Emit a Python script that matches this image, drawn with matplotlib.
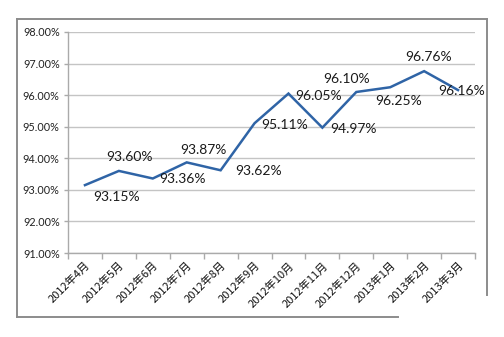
import matplotlib
matplotlib.use("Agg")
import matplotlib.pyplot as plt
from matplotlib.lines import Line2D

months = ["2012年4月", "2012年5月", "2012年6月", "2012年7月", "2012年8月", "2012年9月",
          "2012年10月", "2012年11月", "2012年12月", "2013年1月", "2013年2月", "2013年3月"]
values = [93.15, 93.60, 93.36, 93.87, 93.62, 95.11, 96.05, 94.97, 96.10, 96.25, 96.76, 96.16]
y_ticks = [91, 92, 93, 94, 95, 96, 97, 98]
# label offsets (pixels) relative to each point
label_dx = [32, 11, 30, 17, 38, 30, 30, 31, -10, 8, 4, 4]
label_dy = [-12, 14, -1, 12, -1, -2, -2, -1, 13, -14, 14, -1]

plt.rcParams['font.family'] = ['Lato', 'Noto Sans CJK SC', 'DejaVu Sans']

fig = plt.figure(figsize=(5.04, 3.37), dpi=100)
ax = fig.add_axes([68/504, 1-253/337, (475-68)/504, (253-32)/337])

x = list(range(len(months)))
ax.plot(x, values, color='#2f64a6', linewidth=1.8, solid_joinstyle='miter')

for i, (v, dx, dy) in enumerate(zip(values, label_dx, label_dy)):
    ax.annotate(f"{v:.2f}%", (i, v), xytext=(dx, dy), textcoords='offset pixels',
                ha='center', va='center', fontsize=10, color='#1a1a1a')

ax.set_xlim(-0.5, len(months)-0.5)
ax.set_ylim(91, 98)
ax.set_yticks(y_ticks)
ax.set_yticklabels([f"{t:.2f}%" for t in y_ticks], fontsize=7.8, color='#222222')
ax.yaxis.grid(True, color='#c4c4c4', linewidth=1)
ax.set_axisbelow(True)

ax.set_xticks([i + 0.5 for i in range(-1, len(months))], minor=False)
ax.set_xticklabels([])
ax.set_xticks(x, minor=True)
ax.set_xticklabels(months, minor=True, rotation=45, ha='right', va='top',
                   rotation_mode='anchor', fontsize=8, color='#111111',
                   family=['Noto Sans CJK SC', 'DejaVu Sans'])
ax.tick_params(axis='x', which='major', length=4, color='#aaaaaa', width=1)
ax.tick_params(axis='x', which='minor', length=0, pad=5)
ax.tick_params(axis='y', length=3, color='#aaaaaa', width=1, pad=3)

for s in ['top', 'right']:
    ax.spines[s].set_visible(False)
for s in ['left', 'bottom']:
    ax.spines[s].set_color('#aaaaaa')
    ax.spines[s].set_linewidth(1)

# outer (cropped) border
W, H = 504, 337
def fl(x0, y0, x1, y1):
    fig.add_artist(Line2D([x0/W, x1/W], [1-y0/H, 1-y1/H], color='#8c8c8c', linewidth=1.4,
                          transform=fig.transFigure))
fl(17, 19, 487, 19)
fl(17, 19, 17, 317)
fl(487, 19, 487, 295)
fl(17, 317, 398, 317)

fig.savefig("out.png", dpi=100, facecolor='white')
